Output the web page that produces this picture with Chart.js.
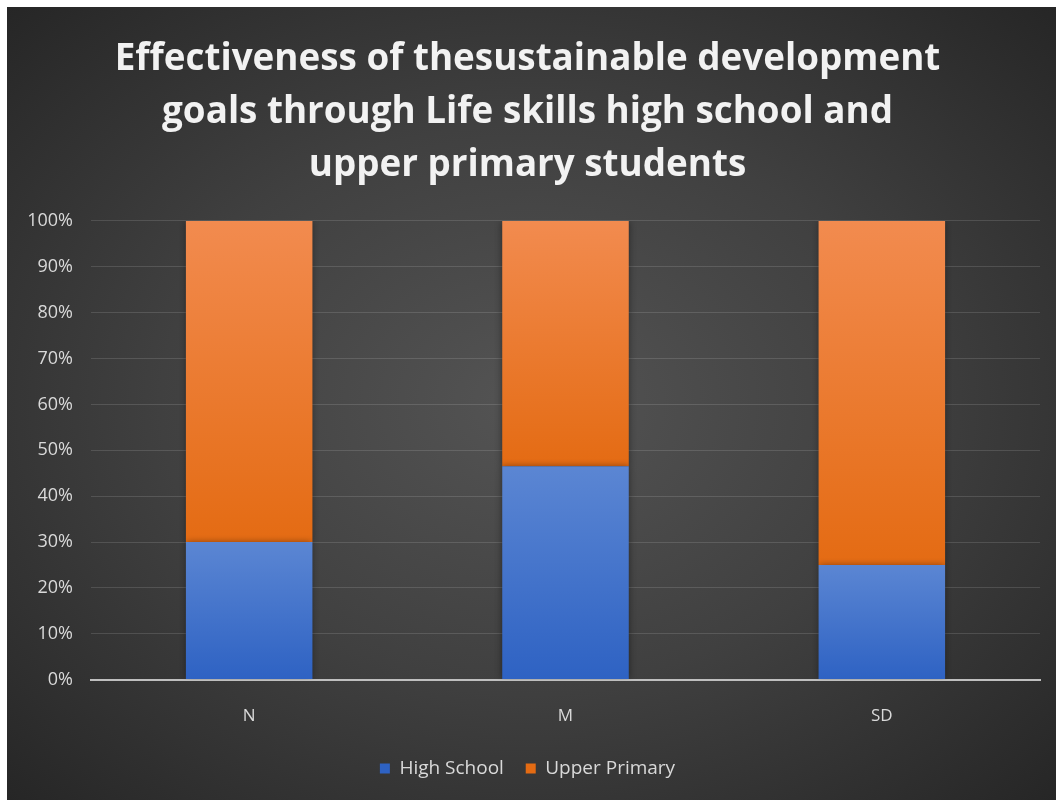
<!DOCTYPE html>
<html lang="en">
<head>
  <meta charset="UTF-8" />
  <title>Life Skills and the SDGs</title>
  <script src="https://cdn.jsdelivr.net/npm/chart.js"></script>
  <style>
    html, body { margin: 0; padding: 0; background: #ffffff; }
    .chart-card {
      position: absolute;
      left: 7px;
      top: 7px;
      width: 1049px;
      height: 793px;
      background: radial-gradient(ellipse at 50% 50%, #545454 0%, #404040 50%, #262626 100%);
    }
  </style>
</head>
<body>

  <div class="chart-card">
    <canvas id="sdgChart" width="1049" height="793"></canvas>
  </div>

  <script>
    // Share of each group per statistic (percent of the column)
    const categories = ["N", "M", "SD"];
    const highSchool = [30, 46.5, 25];
    const upperPrimary = [70, 53.5, 75];
    const yTicks = [0, 10, 20, 30, 40, 50, 60, 70, 80, 90, 100];

    // vertical gradient per bar segment, lighter on top
    function segmentFill(top, bottom, solid, lows, highs) {
      return function (context) {
        const chart = context.chart;
        if (context.type !== "data" || !chart.chartArea) return solid;
        const y = chart.scales.y;
        const i = context.dataIndex;
        const yTop = y.getPixelForValue(highs[i]);
        const yBottom = y.getPixelForValue(lows[i]);
        const g = chart.ctx.createLinearGradient(0, yTop, 0, yBottom);
        g.addColorStop(0, top);
        g.addColorStop(1, bottom);
        return g;
      };
    }

    const zeros = categories.map(() => 0);
    const hsTop = highSchool.slice();
    const upTop = highSchool.map((v, i) => v + upperPrimary[i]);

    // soft dark halo behind the bars
    const barShadow = {
      id: "barShadow",
      beforeDatasetsDraw(chart) {
        const ctx = chart.ctx;
        ctx.save();
        ctx.shadowColor = "rgba(0,0,0,0.45)";
        ctx.shadowBlur = 7;
      },
      afterDatasetsDraw(chart) {
        chart.ctx.restore();
      }
    };

    const font = "'Open Sans', sans-serif";

    const ctx = document.getElementById("sdgChart").getContext("2d");
    new Chart(ctx, {
      type: "bar",
      data: {
        labels: categories,
        datasets: [
          {
            label: "High School",
            data: highSchool,
            backgroundColor: segmentFill("#5b86d3", "#2e62c3", "#4472c4", zeros, hsTop),
            barPercentage: 0.8,
            categoryPercentage: 0.5
          },
          {
            label: "Upper Primary",
            data: upperPrimary,
            backgroundColor: segmentFill("#f28b4f", "#e46b13", "#ed7d31", hsTop, upTop),
            barPercentage: 0.8,
            categoryPercentage: 0.5
          }
        ]
      },
      plugins: [barShadow],
      options: {
        responsive: false,
        animation: false,
        layout: { padding: { left: 8, right: 16, top: 26, bottom: 12 } },
        plugins: {
          title: {
            display: true,
            text: [
              "Effectiveness of thesustainable development",
              "goals through Life skills high school and",
              "upper primary students"
            ],
            color: "#f2f2f2",
            font: { family: font, size: 36.8, weight: "bold", lineHeight: 1.44 },
            padding: { top: 0, bottom: 29 }
          },
          legend: {
            position: "bottom",
            labels: {
              color: "#d9d9d9",
              boxWidth: 10,
              boxHeight: 10,
              padding: 7,
              font: { family: font, size: 19 },
              // wider gap between the two entries than the row padding gives
              generateLabels(chart) {
                const items = Chart.defaults.plugins.legend.labels.generateLabels(chart);
                items.forEach((item, i) => {
                  if (i < items.length - 1) item.text += "   ";
                });
                return items;
              }
            }
          },
          tooltip: { enabled: false }
        },
        scales: {
          x: {
            stacked: true,
            grid: { display: false, drawTicks: false },
            border: { display: true, color: "#bfbfbf", width: 2 },
            ticks: {
              color: "#d9d9d9",
              padding: 26,
              font: { family: font, size: 17 }
            }
          },
          y: {
            stacked: true,
            min: 0,
            max: 100,
            afterBuildTicks(axis) {
              axis.ticks = yTicks.map(v => ({ value: v }));
            },
            afterFit(axis) {
              axis.width = 76;
            },
            grid: { color: "rgba(255,255,255,0.13)", lineWidth: 1, drawTicks: false },
            border: { display: false },
            ticks: {
              color: "#d9d9d9",
              padding: 18,
              font: { family: font, size: 18 },
              callback: v => v + "%"
            }
          }
        }
      }
    });
  </script>

</body>
</html>
